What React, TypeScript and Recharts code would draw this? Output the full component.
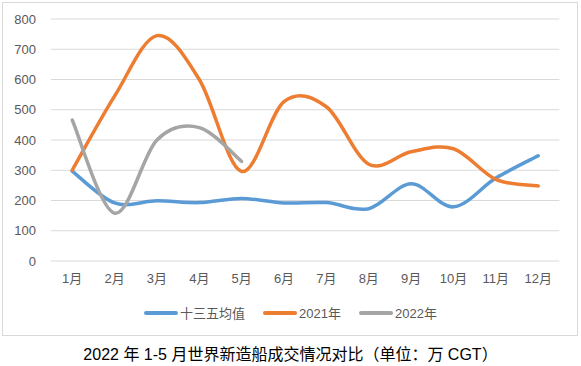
import React from 'react';
import { CartesianGrid, Legend, Line, LineChart, XAxis, YAxis } from 'recharts';

const months = ['1月', '2月', '3月', '4月', '5月', '6月', '7月', '8月', '9月', '10月', '11月', '12月'];
const avg135 = [297, 192, 199, 193, 207, 192, 193, 173, 255, 179, 274, 348];
const y2021 = [300, 545, 745, 600, 296, 527, 510, 320, 361, 371, 270, 248];
const y2022 = [466, 158, 400, 441, 329];
const yTicks = [0, 100, 200, 300, 400, 500, 600, 700, 800];

const seriesInfo = [
  { key: 'avg', name: '十三五均值', color: '#5B9BD5' },
  { key: 'y2021', name: '2021年', color: '#ED7D31' },
  { key: 'y2022', name: '2022年', color: '#A5A5A5' },
];

const data = months.map((m, i) => ({
  month: m,
  avg: avg135[i],
  y2021: y2021[i],
  y2022: i < y2022.length ? y2022[i] : null,
}));

const FONT = "'Liberation Sans', 'Noto Sans CJK SC', sans-serif";

// excel-like smoothed line (catmull-rom style bezier)
function excelCurve(context: any) {
  let pts: number[][] = [];
  return {
    areaStart() {},
    areaEnd() {},
    lineStart() {
      pts = [];
    },
    point(x: number, y: number) {
      pts.push([+x, +y]);
    },
    lineEnd() {
      if (!pts.length) return;
      context.moveTo(pts[0][0], pts[0][1]);
      for (let i = 0; i < pts.length - 1; i++) {
        const p0 = pts[i - 1] || pts[i];
        const p1 = pts[i];
        const p2 = pts[i + 1];
        const p3 = pts[i + 2] || pts[i + 1];
        context.bezierCurveTo(
          p1[0] + (p2[0] - p0[0]) / 6,
          p1[1] + (p2[1] - p0[1]) / 6,
          p2[0] - (p3[0] - p1[0]) / 6,
          p2[1] - (p3[1] - p1[1]) / 6,
          p2[0],
          p2[1]
        );
      }
    },
  };
}

function LegendBox() {
  return (
    <div style={{ display: 'flex', justifyContent: 'center', alignItems: 'center', fontFamily: FONT, fontSize: 13, color: '#595959' }}>
      {seriesInfo.map((s) => (
        <div key={s.key} style={{ display: 'flex', alignItems: 'center', margin: '0 9px' }}>
          <svg width={34} height={6}>
            <line x1={2} y1={3} x2={32} y2={3} stroke={s.color} strokeWidth={4} strokeLinecap="round" />
          </svg>
          <span style={{ marginLeft: 2 }}>{s.name}</span>
        </div>
      ))}
    </div>
  );
}

export default function App() {
  return (
    <div style={{ position: 'absolute', left: 0, top: 0, width: 581, height: 366, background: '#fff' }}>
      <div style={{ position: 'absolute', left: 2, top: 2, width: 574, height: 332, border: '1px solid #d9d9d9' }} />
      <div style={{ position: 'absolute', left: 0, top: 0 }}>
        <LineChart width={581} height={366} data={data} margin={{ top: 19, right: 21.6, left: 0, bottom: 75 }}>
          <CartesianGrid vertical={false} stroke="#d9d9d9" strokeWidth={1} />
          <XAxis
            dataKey="month"
            axisLine={false}
            tickLine={false}
            tickSize={0}
            tickMargin={13}
            height={30}
            interval={0}
            padding={{ left: 21.2, right: 21.2 }}
            tick={{ fill: '#595959', fontSize: 13, fontFamily: FONT }}
          />
          <YAxis
            domain={[0, 800]}
            ticks={yTicks}
            width={51}
            axisLine={false}
            tickLine={false}
            tickSize={0}
            tickMargin={15}
            tick={{ fill: '#595959', fontSize: 13, fontFamily: FONT }}
          />
          <Legend
            layout="horizontal"
            verticalAlign="middle"
            align="center"
            content={() => <LegendBox />}
            wrapperStyle={{ position: 'absolute', left: 0, top: 303, width: 581 }}
          />
          {seriesInfo.map((s) => (
            <Line
              key={s.key}
              dataKey={s.key}
              name={s.name}
              type={excelCurve as any}
              stroke={s.color}
              strokeWidth={3.5}
              strokeLinecap="round"
              dot={false}
              activeDot={false}
              isAnimationActive={false}
            />
          ))}
        </LineChart>
      </div>
      <div
        style={{
          position: 'absolute',
          left: 0,
          top: 345,
          width: 581,
          textAlign: 'center',
          fontFamily: FONT,
          fontSize: 16,
          color: '#000',
          lineHeight: '20px',
        }}
      >
        2022 年 1-5 月世界新造船成交情况对比（单位：万 CGT）
      </div>
    </div>
  );
}
